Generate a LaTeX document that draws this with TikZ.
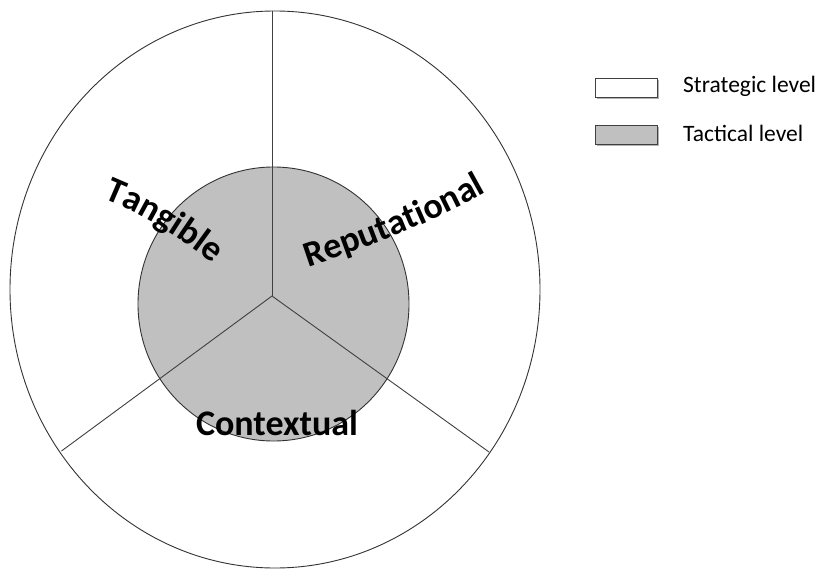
\documentclass[tikz,border=0pt]{standalone}
\usepackage{fontspec}
\setmainfont{Carlito}
\usetikzlibrary{decorations.text,shadows}

\definecolor{tactgray}{RGB}{192,192,192}

\tikzset{
  rim/.style={draw=black!80, line width=0.9pt},
  spoke/.style={draw=black!75, line width=0.9pt},
  legbox/.style={draw=black!75, line width=0.9pt, minimum width=62pt, minimum height=19pt, inner sep=0pt,
    drop shadow={shadow xshift=1.5pt, shadow yshift=-2pt, fill=black!50, opacity=0.6}},
  legtext/.style={anchor=base west, inner sep=0pt, font=\fontsize{23.5}{23.5}\selectfont},
  arctext/.style={decorate, decoration={text along path, text align=center,
    text={|\bfseries\fontsize{36}{36}\selectfont|#1}}},
}

\begin{document}
\begin{tikzpicture}[x=1pt,y=-1pt]
   \useasboundingbox (0,0) rectangle (818,569);

   % strategic and tactical rings
   \draw[rim, fill=white] (275,289.5) ellipse [x radius=265, y radius=278.5];
   \draw[rim, fill=tactgray] (273.5,304) ellipse [x radius=135.5, y radius=137];

   % spokes
   \coordinate (hub) at (272,296);
   \coordinate (top) at (272,11);
   \coordinate (lowleft) at (61.5,451);
   \coordinate (lowright) at (489,452);
   \foreach \p in {top,lowleft,lowright} {
     \draw[spoke] (hub) -- (\p);
   }

   % sector labels
   \path[arctext=Tangible] (97,196) .. controls (140,212) and (185,240) .. (218,268);
   \path[arctext=Reputational] (300,270) .. controls (360,250) and (430,225) .. (494,188);
   \node[inner sep=0pt, anchor=base, font=\bfseries\fontsize{36}{36}\selectfont] (ctx) at (277,435) {Contextual};

   % legend
   \node[legbox, fill=white] (strat) at (626,87.5) {};
   \node[legbox, fill=tactgray] (tact) at (626,135) {};
   \node[legtext] (stratlbl) at (683,93) {Strategic level};
   \node[legtext] (tactlbl) at (683,142) {Tactical level};

\end{tikzpicture}
\end{document}
